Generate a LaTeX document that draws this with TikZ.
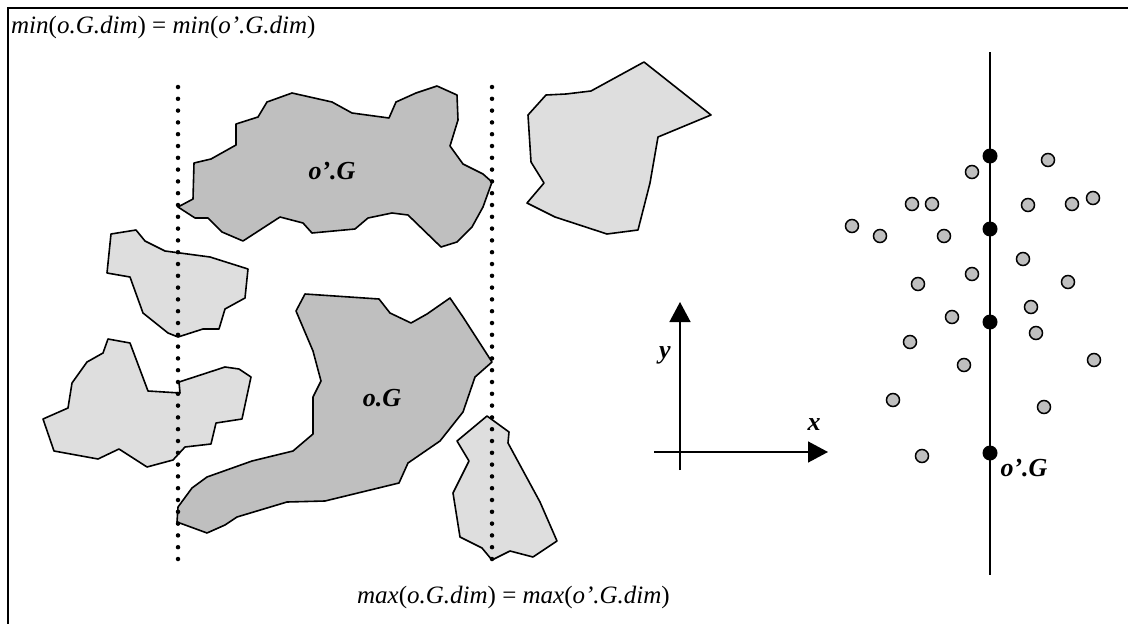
\documentclass[tikz,border=0pt]{standalone}
\usepackage{fontspec}
\setmainfont{Liberation Serif}
\usetikzlibrary{arrows.meta}

\begin{document}
\begin{tikzpicture}[x=1pt, y=-1pt, >={Triangle[length=20pt,width=21pt]},
    blob/.style={line width=1.6pt, line join=round},
    darkblob/.style={blob, fill=black!25},
    lightblob/.style={blob, fill=black!13},
    bound/.style={line width=4.5pt, line cap=round, dash pattern=on 0pt off 11.8pt},
    probe/.style={circle, draw, line width=1.5pt, fill=black!25, minimum size=13pt, inner sep=0pt},
    hit/.style={circle, fill=black, minimum size=15pt, inner sep=0pt},
    txt/.style={font=\fontsize{25}{29}\selectfont, inner sep=0pt},
    lbl/.style={font=\fontsize{26}{30}\selectfont\bfseries\itshape, inner sep=0pt, anchor=base}]
    \useasboundingbox (0,0) rectangle (1128,624);

    % Frame
    \draw [line width=1.5pt] (8,624) -- (8,8) -- (1128,8);

    % Other objects
    \draw [lightblob] (111,234) -- (136,230) -- (145,241) -- (165,251) -- (210,257) -- (248,269) -- (245,298) -- (225,309) -- (219,329) -- (203,329) -- (178,337) -- (168,333) -- (143,313) -- (130,277) -- (107,273) -- cycle;
    \draw [lightblob] (108,339) -- (130,343) -- (148,391) -- (180,393) -- (179,382) -- (225,367) -- (239,369) -- (251,377) -- (242,419) -- (216,423) -- (211,444) -- (185,447) -- (173,460) -- (147,467) -- (119,449) -- (98,459) -- (54,451) -- (43,419) -- (68,408) -- (72,383) -- (87,362) -- (103,353) -- cycle;
    \draw [lightblob] (487,416) -- (509,432) -- (508,443) -- (540,502) -- (557,541) -- (533,557) -- (510,551) -- (492,560) -- (482,548) -- (460,537) -- (453,493) -- (469,461) -- (457,441) -- cycle;
    \draw [lightblob] (644,62) -- (711,115) -- (658,137) -- (650,183) -- (638,230) -- (607,234) -- (555,217) -- (527,203) -- (544,183) -- (531,162) -- (528,115) -- (546,95) -- (566,94) -- (591,91) -- cycle;

    % o'.G and o.G
    \draw [darkblob] (178,207) -- (193,199) -- (194,163) -- (211,159) -- (236,145) -- (236,124) -- (258,117) -- (267,102) -- (292,93) -- (332,102) -- (352,113) -- (389,118) -- (396,102) -- (416,93) -- (437,86) -- (457,95) -- (458,120) -- (450,146) -- (463,164) -- (483,174) -- (492,182) -- (483,207) -- (472,227) -- (457,242) -- (441,247) -- (408,215) -- (392,213) -- (368,218) -- (355,229) -- (312,233) -- (303,223) -- (280,217) -- (243,241) -- (222,232) -- (208,218) -- (195,218) -- cycle;
    \draw [darkblob] (305,294) -- (379,299) -- (390,313) -- (411,323) -- (427,314) -- (450,298) -- (463,317) -- (492,362) -- (475,377) -- (463,412) -- (440,441) -- (408,463) -- (399,483) -- (325,501) -- (287,502) -- (237,517) -- (225,525) -- (207,533) -- (177,522) -- (178,507) -- (192,488) -- (207,477) -- (252,461) -- (293,451) -- (313,434) -- (313,397) -- (315,393) -- (321,381) -- (313,351) -- (296,311) -- cycle;
    \node [lbl] (opg) at (332,179) {o’.G};
    \node [lbl] (og) at (382,406) {o.G};

    % Bounds of the dimension
    \draw [bound] (178,87) -- (178,559);
    \draw [bound] (492,87) -- (492,559);
    \node [txt, anchor=base west] (mintxt) at (11,33) {\textit{min}(\textit{o.G.dim}) = \textit{min}(\textit{o’.G.dim})};
    \node [txt, anchor=base east] (maxtxt) at (670,603) {\textit{max}(\textit{o.G.dim}) = \textit{max}(\textit{o’.G.dim})};

    % Axes
    \coordinate (xs) at (654,452);
    \coordinate (xe) at (828,452);
    \coordinate (ys) at (680,470);
    \coordinate (ye) at (680,302);
    \draw [line width=1.5pt, ->] (xs) -- (xe);
    \draw [line width=1.5pt, ->] (ys) -- (ye);
    \node [lbl] (xlab) at (814,430) {x};
    \node [lbl] (ylab) at (665,358) {y};

    % Point set of o'.G
    \coordinate (lt) at (990,52);
    \coordinate (lb) at (990,575);
    \draw [line width=1.5pt] (lt) -- (lb);
    \foreach \px/\py in {972/172, 1048/160, 912/204, 932/204, 1028/205, 1072/204, 1093/198,
        852/226, 880/236, 944/236, 1023/259, 972/274, 918/284, 1068/282, 1031/307, 952/317,
        1036/333, 910/342, 964/365, 1094/360, 893/400, 1044/407, 922/456}
        \node [probe] (p-\px-\py) at (\px,\py) {};
    \foreach \py [count=\i] in {156, 229, 322, 453}
        \node [hit] (h\i) at (990,\py) {};
    \node [lbl] (opg2) at (1024,476) {o’.G};
\end{tikzpicture}
\end{document}
